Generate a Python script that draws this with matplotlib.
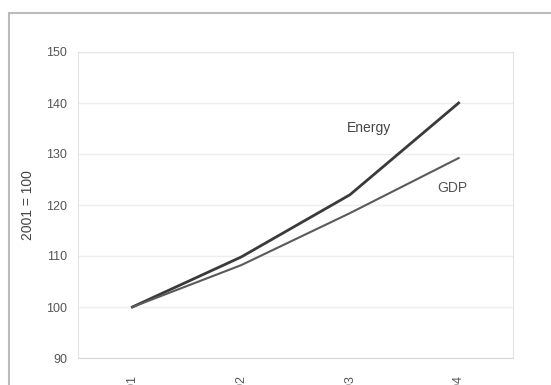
import matplotlib.pyplot as plt
from matplotlib.patches import Rectangle

years = ["2001", "2002", "2003", "2004"]
energy = [100, 109.8, 122, 140]
gdp = [100, 108.2, 118.4, 129.2]
yticks = [90, 100, 110, 120, 130, 140, 150]

plt.rcParams['font.family'] = ['Liberation Sans Narrow', 'Liberation Sans', 'DejaVu Sans']

fig = plt.figure(figsize=(5.51, 3.85), dpi=100)
fig.patches.append(Rectangle((9 / 551, -0.1), 1.2, 1 - 13 / 385 + 0.1, transform=fig.transFigure,
                             fill=False, edgecolor='#bbbbbb', linewidth=1.5))
ax = fig.add_axes([78 / 551, 1 - 358 / 385, 435 / 551, 306 / 385])

x = range(len(years))
ax.plot(x, energy, color='#3a3a3a', linewidth=2)
ax.plot(x, gdp, color='#5a5a5a', linewidth=1.5)
ax.text(2.18, 135.1, "Energy", fontsize=10, color='#444444', ha='center', va='center')
ax.text(2.94, 123.3, "GDP", fontsize=10, color='#555555', ha='center', va='center')

ax.set_xlim(-0.5, 3.5)
ax.set_ylim(90, 150)
ax.set_yticks(yticks)
ax.set_xticks(list(x))
ax.set_xticklabels(years, rotation=90, va='top')
ax.tick_params(length=0, labelsize=9, colors='#555555')
ax.tick_params(axis='x', pad=12)
ax.tick_params(axis='y', pad=8)
ax.set_ylabel("2001 = 100", fontsize=10, color='#444444', labelpad=8)
ax.grid(axis='y', color='#eeeeee', linewidth=1)
ax.set_axisbelow(True)
for s in ax.spines.values():
    s.set_color('#e4e4e4')
ax.spines['bottom'].set_color('#d8d8d8')

fig.savefig('out.png', dpi=100)
